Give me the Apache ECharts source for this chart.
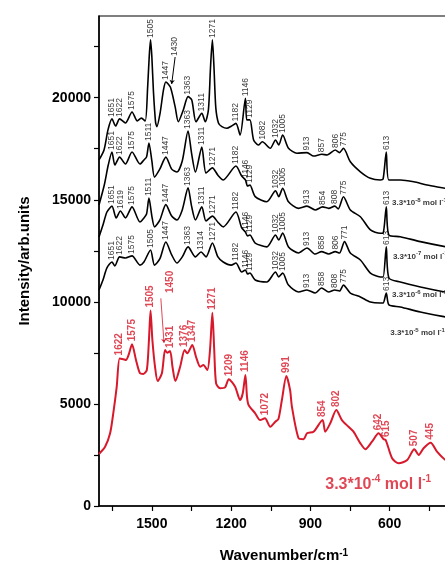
<!DOCTYPE html>
<html style="height: 100%">
<head>
<meta charset="utf-8">
<title>SERS spectra</title>
<script src="https://cdn.jsdelivr.net/npm/echarts@6/dist/echarts.min.js"></script>
</head>
<body style="height: 100%; margin: 0; background: #fff">
<div id="target" style="width: 445px; height: 562px"></div>
<script>
// spectra as [wavenumber, intensity]
const spec1 = [[1700,16950],[1681,17440],[1666,18420],[1651,18960],[1637,18610],[1622,18960],[1600,18760],[1575,19300],[1555,18860],[1540,19000],[1525,18860],[1516,20500],[1510,22000],[1505,22830],[1500,22000],[1494,20300],[1486,18800],[1481,18580],[1469,19230],[1456,20380],[1447,20770],[1430,20520],[1412,19560],[1400,18820],[1381,19400],[1363,20050],[1349,19890],[1333,18820],[1311,19230],[1298,18820],[1286,19400],[1278,21500],[1271,22830],[1265,21500],[1258,19500],[1248,18760],[1235,18580],[1216,18500],[1200,18600],[1182,18740],[1166,18170],[1146,19970],[1141,18910],[1129,18910],[1115,17930],[1097,17680],[1082,17840],[1052,17520],[1032,17930],[1020,17680],[1005,18170],[983,17520],[951,17280],[913,17310],[888,17140],[857,17230],[837,17190],[806,17440],[790,17310],[775,17520],[749,16860],[711,16370],[673,16050],[636,15970],[625,16020],[613,17340],[603,15970],[560,15970],[509,15880],[459,15720],[389,15560],[350,15450],[300,15350]];
const spec2 = [[1700,14740],[1680,15720],[1665,16700],[1651,17340],[1640,16700],[1622,17090],[1600,16750],[1575,17340],[1545,16750],[1530,16950],[1520,17100],[1511,17780],[1500,16900],[1490,16110],[1470,16500],[1447,17090],[1425,16500],[1405,16360],[1385,16900],[1363,18370],[1350,17300],[1335,16360],[1311,17580],[1295,16310],[1271,16560],[1250,16200],[1230,15970],[1182,16650],[1160,16160],[1146,15970],[1138,15670],[1129,15720],[1109,15150],[1065,14900],[1032,15440],[1020,15150],[1005,15560],[983,14900],[945,14580],[913,14690],[882,14500],[854,14650],[831,14580],[808,14690],[795,14550],[775,15150],[749,14500],[711,14170],[673,13520],[636,13360],[625,13370],[613,14650],[603,13270],[560,13190],[484,12950],[389,12700],[300,12500]];
const spec3 = [[1700,13180],[1685,13760],[1670,14400],[1651,14690],[1635,14110],[1619,14450],[1600,14110],[1575,14650],[1545,13910],[1530,14110],[1520,14300],[1511,15080],[1500,14200],[1490,13670],[1470,14000],[1447,14760],[1425,14200],[1405,14010],[1385,14500],[1363,15580],[1350,14700],[1335,14010],[1311,14650],[1295,13960],[1271,14200],[1250,13900],[1230,13670],[1182,14400],[1160,13620],[1146,13420],[1138,13230],[1129,13270],[1109,12880],[1065,12690],[1032,13270],[1020,13030],[1005,13370],[983,12690],[945,12390],[913,12640],[882,12340],[858,12460],[831,12340],[806,12460],[790,12390],[771,12950],[749,12390],[711,12050],[673,11410],[636,11220],[625,11220],[613,12690],[603,11170],[560,10970],[484,10730],[389,10480],[300,10300]];
const spec4 = [[1700,10580],[1685,11070],[1670,11660],[1651,11950],[1640,11760],[1622,12200],[1600,12150],[1575,12250],[1545,11800],[1530,11950],[1505,12540],[1490,11800],[1470,12100],[1447,12930],[1425,12300],[1405,11900],[1385,12200],[1363,12690],[1335,12200],[1314,12440],[1295,12200],[1271,12880],[1250,12200],[1230,11950],[1200,11800],[1182,11900],[1160,11460],[1146,11560],[1138,11360],[1129,11410],[1109,11070],[1065,10970],[1032,11460],[1020,11220],[1005,11410],[983,10820],[945,10480],[913,10580],[882,10430],[858,10680],[831,10480],[808,10580],[790,10530],[775,10820],[749,10430],[711,10240],[673,9990],[636,9940],[625,9940],[613,10430],[603,9850],[560,9750],[484,9500],[389,9260],[300,9050]];
const specRed = [[1700,2550],[1677,2900],[1658,3560],[1646,4540],[1633,5840],[1622,7230],[1608,7190],[1598,7150],[1588,7400],[1575,7920],[1560,7150],[1545,6500],[1532,6470],[1519,6660],[1511,8130],[1505,9570],[1498,8130],[1488,6820],[1478,6120],[1462,6500],[1450,7640],[1442,7510],[1431,7590],[1422,6820],[1411,6120],[1393,6820],[1376,7640],[1366,7480],[1347,7890],[1333,7310],[1317,6820],[1305,6910],[1290,6660],[1280,7640],[1271,9470],[1264,7640],[1257,6010],[1242,5770],[1223,5810],[1209,6210],[1185,5840],[1166,5190],[1156,5520],[1146,6420],[1140,5350],[1134,4950],[1109,4540],[1090,4210],[1072,4300],[1052,3880],[1033,4130],[1021,4260],[1008,5190],[991,6370],[977,5680],[970,4860],[945,3320],[926,3270],[913,3560],[888,3640],[854,4210],[844,3640],[825,4050],[802,4700],[781,4210],[756,3880],[737,3640],[711,3070],[692,2780],[667,3150],[642,3560],[623,3270],[615,3230],[591,2340],[566,2090],[534,2250],[507,2780],[490,2500],[472,2830],[445,3100],[421,2660],[389,2250],[350,2000],[300,1900]];

// band labels per spectrum
const peaks1 = [1651,1622,1575,1505,1447,1363,1311,1271,1182,1146,1129,1082,1032,1005,913,857,806,775,613];
const peaks2 = [1651,1622,1575,1511,1447,1363,1311,1271,1182,1146,1129,1032,1005,913,854,808,775,613];
const peaks3 = [1651,1619,1575,1511,1447,1363,1311,1271,1182,1146,1129,1032,1005,913,858,806,771,613];
const peaks4 = [1651,1622,1575,1505,1447,1363,1314,1271,1182,1146,1129,1032,1005,913,858,808,775,613];
const peaksRed = [1622,1575,1505,1431,1376,1347,1271,1209,1146,1072,991,854,802,642,615,507,445];

// labels drawn away from their band, with a leader: [text, label pos, line start, line end]
const leader1 = ['1430', [1412,22040], [1412,21990], [1425,20670]];
const leaderRed = ['1450', [1431,10430], [1466,10170], [1454,7990]];

// concentration labels: [exponent, wavenumber, intensity]
const concLabels = [['-8',591,14830],['-7',588,12210],['-6',591,10330],['-5',598,8470]];
const redConc = ['-4', 844, 1030];

const xTicks = [1650,1500,1350,1200,1050,900,750,600,450,300];
const xLabels = [1500,1200,900,600,300];
const yTicks = [0,2500,5000,7500,10000,12500,15000,17500,20000,22500];
const yLabels = [0,5000,10000,15000,20000];

const FONT = 'Liberation Sans, Arial, sans-serif';
const RED = '#d7192b';

let chart = echarts.init(document.getElementById('target'));

function valueAt(data, wn)
{
    return data.find(p => p[0] === wn)[1];
}

function spectrum(data, color, width)
{
    return {
        type: 'line',
        data: data,
        symbol: 'none',
        smooth: 0.25,
        lineStyle: { color: color, width: width },
        silent: true,
        z: 3,
    };
}

function bandLabels(data, peaks, color, size, weight, gap)
{
    return {
        type: 'scatter',
        data: peaks.map(w => [w, valueAt(data, w)]),
        symbolSize: 0,
        silent: true,
        z: 5,
        label: {
            show: true,
            position: 'top',
            distance: gap,
            rotate: 90,
            align: 'left',
            verticalAlign: 'middle',
            formatter: p => String(p.value[0]),
            color: color,
            fontSize: size,
            fontWeight: weight,
            fontFamily: FONT,
        },
    };
}

function leader(item, color, size, weight, width)
{
    return {
        type: 'scatter',
        data: [item[1]],
        symbolSize: 0,
        silent: true,
        z: 5,
        label: {
            show: true,
            position: 'inside',
            rotate: 90,
            align: 'left',
            verticalAlign: 'middle',
            formatter: item[0],
            color: color,
            fontSize: size,
            fontWeight: weight,
            fontFamily: FONT,
        },
        markLine: {
            silent: true,
            symbol: ['none', 'arrow'],
            symbolSize: 4,
            label: { show: false },
            lineStyle: { color: color, width: width, type: 'solid' },
            data: [[{ coord: item[2] }, { coord: item[3] }]],
        },
    };
}

function concLabel(data, color, size, supSize, lh, supLh)
{
    return {
        type: 'scatter',
        data: data,
        symbolSize: 0,
        silent: true,
        z: 5,
        label: {
            show: true,
            position: 'inside',
            align: 'left',
            verticalAlign: 'middle',
            formatter: p => `{a|3.3*10}{s|${p.value[2]}}{a| mol l}{s|-1}`,
            rich: {
                a: { fontSize: size, lineHeight: lh, fontWeight: 'bold', color: color, fontFamily: FONT },
                s: { fontSize: supSize, lineHeight: supLh, fontWeight: 'bold', color: color, fontFamily: FONT, verticalAlign: 'top' },
            },
        },
    };
}

let series = [
    spectrum(spec1, '#000', 1.6),
    spectrum(spec2, '#000', 1.6),
    spectrum(spec3, '#000', 1.6),
    spectrum(spec4, '#000', 1.6),
    spectrum(specRed, RED, 2),
    bandLabels(spec1, peaks1, '#000', 8.5, 'normal', 2),
    bandLabels(spec2, peaks2, '#000', 8.5, 'normal', 2),
    bandLabels(spec3, peaks3, '#000', 8.5, 'normal', 2),
    bandLabels(spec4, peaks4, '#000', 8.5, 'normal', 2),
    bandLabels(specRed, peaksRed, RED, 10, 'bold', 3),
    leader(leader1, '#000', 8.5, 'normal', 1),
    leader(leaderRed, RED, 10, 'bold', 0.8),
    concLabel(concLabels.map(c => [c[1], c[2], c[0]]), '#000', 8, 6, 12, 6),
    concLabel([[redConc[1], redConc[2], redConc[0]]], RED, 16, 10, 22, 10),
];

let option = {
    animation: false,
    backgroundColor: '#fff',
    grid: {
        left: 99,
        right: -24,
        top: 16,
        bottom: 56,
        outerBoundsMode: 'none',
        containLabel: false,
        show: true,
        borderColor: '#000',
        borderWidth: 1.2,
    },
    xAxis: {
        type: 'value',
        inverse: true,
        min: 300,
        max: 1700,
        splitLine: { show: false },
        axisLine: { lineStyle: { color: '#000', width: 1.5 } },
        axisTick: { inside: false, length: 5, customValues: xTicks, lineStyle: { color: '#000', width: 1.2 } },
        axisLabel: { customValues: xLabels, formatter: v => String(v), margin: 11, color: '#000', fontSize: 14, fontWeight: 'bold', fontFamily: FONT },
        name: '{a|Wavenumber/cm}{s|-1}',
        nameLocation: 'middle',
        nameGap: 42,
        nameTextStyle: {
            rich: {
                a: { fontSize: 15, fontWeight: 'bold', color: '#000', fontFamily: FONT },
                s: { fontSize: 10, lineHeight: 10, fontWeight: 'bold', color: '#000', fontFamily: FONT, verticalAlign: 'top' },
            },
        },
    },
    yAxis: {
        type: 'value',
        min: 0,
        max: 24000,
        splitLine: { show: false },
        axisLine: { lineStyle: { color: '#000', width: 1.5 } },
        axisTick: { inside: false, length: 5, customValues: yTicks, lineStyle: { color: '#000', width: 1.2 } },
        axisLabel: { customValues: yLabels, formatter: v => String(v), margin: 8, color: '#000', fontSize: 14, fontWeight: 'bold', fontFamily: FONT },
        name: 'Intensity/arb.units',
        nameLocation: 'middle',
        nameGap: 67,
        nameTextStyle: { fontSize: 15, fontWeight: 'bold', color: '#000', fontFamily: FONT },
    },
    series: series,
};

chart.setOption(option);
</script>
</body>
</html>
